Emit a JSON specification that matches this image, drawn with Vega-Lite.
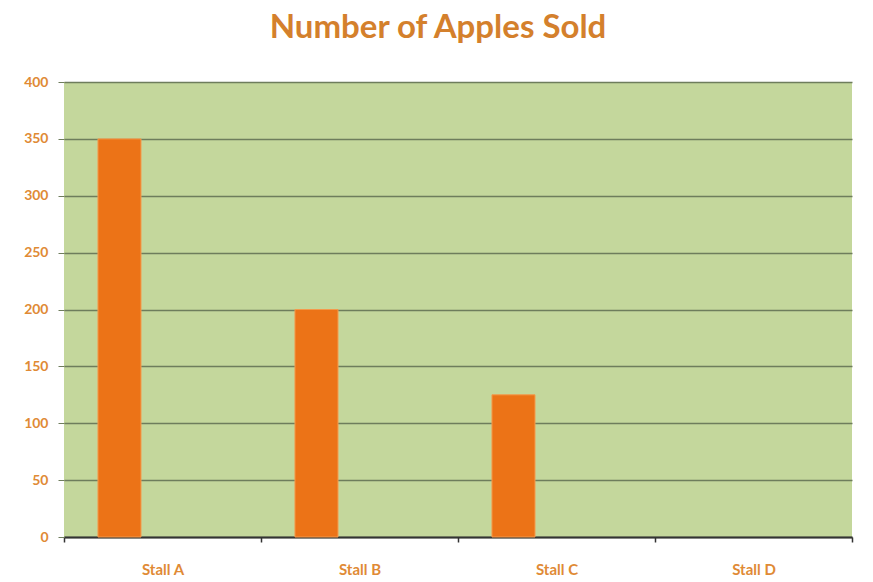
{
  "$schema": "https://vega.github.io/schema/vega-lite/v6.json",
  "autosize": {"type": "none"},
  "width": 788,
  "height": 455,
  "padding": {"left": 64, "top": 82, "right": 21, "bottom": 45},
  "background": "white",
  "title": {
    "text": "Number of Apples Sold",
    "font": "Lato",
    "fontSize": 33,
    "fontWeight": "bold",
    "color": "#d4802c",
    "anchor": "middle",
    "baseline": "alphabetic",
    "offset": 4,
    "dx": -20
  },
  "data": {
    "values": [
      {"stall": "Stall A", "series": "Apples", "sold": 350},
      {"stall": "Stall B", "series": "Apples", "sold": 200},
      {"stall": "Stall C", "series": "Apples", "sold": 125}
    ]
  },
  "config": {
    "view": {"fill": "#c4d79c", "stroke": null},
    "axis": {"labelFont": "Lato", "labelFontWeight": "bold", "labelColor": "#e08a35", "labelFontSize": 14}
  },
  "mark": {"type": "bar", "color": "#ec7317", "stroke": "#f49a4c", "strokeWidth": 1},
  "encoding": {
    "x": {
      "field": "stall",
      "type": "nominal",
      "scale": {"domain": ["Stall A", "Stall B", "Stall C", "Stall D"], "paddingInner": 0, "paddingOuter": 0},
      "axis": {
        "title": null,
        "labelAngle": 0,
        "labelFontSize": 15,
        "tickBand": "extent",
        "domainColor": "#333333",
        "domainWidth": 2,
        "tickColor": "#333333",
        "tickWidth": 1.5,
        "tickSize": 5,
        "labelPadding": 20,
        "grid": false
      }
    },
    "xOffset": {
      "field": "series",
      "type": "nominal",
      "scale": {"domain": ["Apples", "s2", "s3"], "paddingInner": 0, "paddingOuter": 0.79}
    },
    "y": {
      "field": "sold",
      "type": "quantitative",
      "scale": {"domain": [0, 400]},
      "axis": {
        "title": null,
        "values": [0, 50, 100, 150, 200, 250, 300, 350, 400],
        "grid": true,
        "gridColor": "#6e7d5c",
        "gridWidth": 1.5,
        "domain": false,
        "tickColor": "#6e7d5c",
        "tickSize": 6,
        "labelPadding": 10
      }
    }
  }
}
